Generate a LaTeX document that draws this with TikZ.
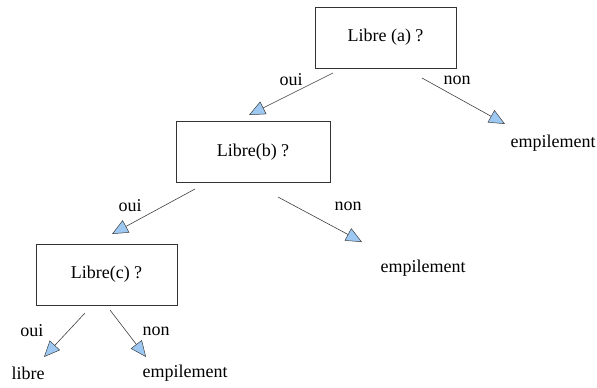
\documentclass[tikz,border=0pt]{standalone}
\usepackage{fontspec}
\setmainfont{Liberation Serif}
\usetikzlibrary{arrows.meta}
\definecolor{tipblue}{HTML}{9CC8F2}

\begin{document}
\begin{tikzpicture}[x=1pt,y=-1pt,font=\fontsize{18}{20}\selectfont,
    every node/.style={inner sep=0pt},
    test/.style={draw=black!80,line width=0.8pt,minimum width=141pt,minimum height=61pt},
    fleche/.style={draw=black!75,line width=0.6pt,-{Triangle[length=16pt,width=14pt,fill=tipblue,line width=0.5pt]}}]
                \useasboundingbox (0,0) rectangle (597,388);

                % les tests
                \node[test] (A) at (385.5,37.5) {Libre (a) ?};
                \node[test,minimum width=154pt] (B) at (253,152) {Libre(b) ?};
                \node[test] (C) at (106.5,274.5) {Libre(c) ?};

                % les feuilles
                \node (eA) at (553,143) {empilement};
                \node (eB) at (423,268) {empilement};
                \node (lC) at (28,373) {libre};
                \node (eC) at (185,373) {empilement};

                % etiquettes
                \node (Aoui) at (291,80) {oui};
                \node (Anon) at (457,80) {non};
                \node (Boui) at (130,206) {oui};
                \node (Bnon) at (348,206) {non};
                \node (Coui) at (32,331) {oui};
                \node (Cnon) at (156,331) {non};

                % bouts des fleches
                \coordinate (a1) at (333,73);
                \coordinate (a2) at (249,115);
                \coordinate (a3) at (422,78);
                \coordinate (a4) at (505,124);
                \coordinate (b1) at (195,189);
                \coordinate (b2) at (112,234);
                \coordinate (b3) at (278,197);
                \coordinate (b4) at (362,242);
                \coordinate (c1) at (85,313);
                \coordinate (c2) at (44,357);
                \coordinate (c3) at (110,310);
                \coordinate (c4) at (146,357);

                \draw [fleche] (a1) -- (a2);
                \draw [fleche] (a3) -- (a4);
                \draw [fleche] (b1) -- (b2);
                \draw [fleche] (b3) -- (b4);
                \draw [fleche] (c1) -- (c2);
                \draw [fleche] (c3) -- (c4);
            \end{tikzpicture}
\end{document}
